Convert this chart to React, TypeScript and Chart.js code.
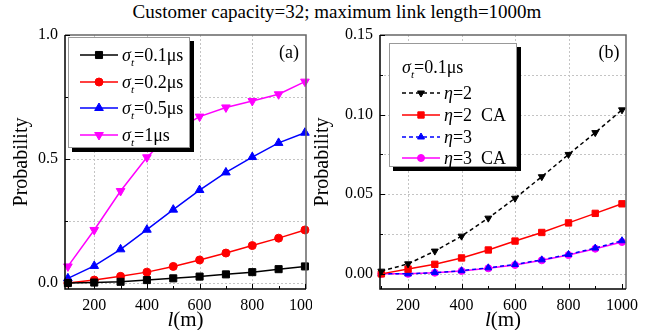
import React, { useEffect, useRef } from 'react';
import { Chart, registerables } from 'chart.js';

Chart.register(...registerables);

const FONT = "'Liberation Serif', 'Times New Roman', Times, Tinos, serif";

// ---------- data ----------
const xValues = [100, 200, 300, 400, 500, 600, 700, 800, 900, 1000];

// panel (a)
const sigma01 = [0.0, 0.002, 0.005, 0.012, 0.019, 0.026, 0.035, 0.044, 0.056, 0.067];
const sigma02 = [0.0, 0.012, 0.027, 0.044, 0.067, 0.093, 0.121, 0.151, 0.181, 0.214];
const sigma05 = [0.019, 0.069, 0.136, 0.215, 0.296, 0.375, 0.446, 0.508, 0.565, 0.606];
const sigma1 = [0.067, 0.214, 0.371, 0.507, 0.61, 0.671, 0.708, 0.734, 0.761, 0.812];

// panel (b)
const eta2 = [0.0017, 0.0063, 0.0143, 0.0237, 0.035, 0.0475, 0.061, 0.075, 0.0887, 0.103];
const eta2CA = [0.0, 0.003, 0.006, 0.01, 0.015, 0.0206, 0.026, 0.032, 0.038, 0.044];
const eta3 = [0.0, 0.0, 0.0008, 0.002, 0.0038, 0.0059, 0.0088, 0.0122, 0.0162, 0.0208];
const eta3CA = [0.0, 0.0, 0.0007, 0.0018, 0.0035, 0.0056, 0.0085, 0.0118, 0.0158, 0.02];

// tick values / labels
const xTickValues = [100, 200, 300, 400, 500, 600, 700, 800, 900, 1000];
const xLabelValues = [200, 400, 600, 800, 1000];
const yTicksA = [0, 0.25, 0.5, 0.75, 1.0];
const yLabelsA = ['0.0', '', '0.5', '', '1.0'];
const yTicksB = [0, 0.025, 0.05, 0.075, 0.1, 0.125, 0.15];
const yLabelsB = ['0.00', '', '0.05', '', '0.10', '', '0.15'];

const titleText = 'Customer capacity=32; maximum link length=1000m';

type Part = { t: string; italic?: boolean; sub?: boolean };
const sigmaLabel = (v: string): Part[] => [
  { t: 'σ', italic: true },
  { t: 't', italic: true, sub: true },
  { t: '=' + v + 'μs' },
];
const etaLabel = (v: string): Part[] => [{ t: 'η', italic: true }, { t: '=' + v }];

const legendLabelsA: Part[][] = [sigmaLabel('0.1'), sigmaLabel('0.2'), sigmaLabel('0.5'), sigmaLabel('1')];
const legendHeaderB: Part[] = sigmaLabel('0.1');
const legendLabelsB: Part[][] = [etaLabel('2'), etaLabel('2  CA'), etaLabel('3'), etaLabel('3  CA')];
const xTitleParts: Part[] = [{ t: 'l', italic: true }, { t: '(m)' }];

// ---------- drawing helpers ----------
function richWidth(ctx: CanvasRenderingContext2D, parts: Part[], size: number) {
  let w = 0;
  for (const p of parts) {
    const fs = p.sub ? size * 0.62 : size;
    ctx.font = `${p.italic ? 'italic ' : ''}${fs}px ${FONT}`;
    w += ctx.measureText(p.t).width;
  }
  return w;
}

function drawRich(ctx: CanvasRenderingContext2D, x: number, y: number, parts: Part[], size: number) {
  let cx = x;
  ctx.textAlign = 'left';
  ctx.textBaseline = 'alphabetic';
  ctx.fillStyle = '#000';
  for (const p of parts) {
    const fs = p.sub ? size * 0.62 : size;
    ctx.font = `${p.italic ? 'italic ' : ''}${fs}px ${FONT}`;
    ctx.fillText(p.t, cx, y + (p.sub ? size * 0.25 : 0));
    cx += ctx.measureText(p.t).width;
  }
}

function drawMarker(ctx: CanvasRenderingContext2D, style: string, x: number, y: number, r: number, color: string, rot: number) {
  ctx.save();
  ctx.fillStyle = color;
  ctx.strokeStyle = color;
  ctx.lineWidth = 1;
  ctx.setLineDash([]);
  ctx.beginPath();
  if (style === 'rect') {
    const s = r * Math.SQRT1_2;
    ctx.rect(x - s, y - s, 2 * s, 2 * s);
  } else if (style === 'circle') {
    ctx.arc(x, y, r, 0, Math.PI * 2);
  } else {
    let a = (rot * Math.PI) / 180;
    for (let i = 0; i < 3; i++) {
      const px = x + Math.sin(a) * r;
      const py = y - Math.cos(a) * r;
      if (i === 0) ctx.moveTo(px, py);
      else ctx.lineTo(px, py);
      a += (2 * Math.PI) / 3;
    }
    ctx.closePath();
  }
  ctx.fill();
  ctx.stroke();
  ctx.restore();
}

const decorPlugin = {
  id: 'decor',
  beforeDatasetsDraw(chart: any, _args: any, opts: any) {
    const { ctx, chartArea: ca } = chart;
    const xs = chart.scales.x;
    const ys = chart.scales.y;
    ctx.save();
    ctx.strokeStyle = '#c4c4c4';
    ctx.lineWidth = 1;
    ctx.setLineDash([2, 2]);
    for (const v of opts.xGrid) {
      const px = Math.round(xs.getPixelForValue(v)) + 0.5;
      ctx.beginPath();
      ctx.moveTo(px, ca.top);
      ctx.lineTo(px, ca.bottom);
      ctx.stroke();
    }
    for (const v of opts.yGrid) {
      const py = Math.round(ys.getPixelForValue(v)) + 0.5;
      ctx.beginPath();
      ctx.moveTo(ca.left, py);
      ctx.lineTo(ca.right, py);
      ctx.stroke();
    }
    ctx.restore();
  },
  afterDraw(chart: any, _args: any, opts: any) {
    const { ctx, chartArea: ca } = chart;
    const xs = chart.scales.x;
    const ys = chart.scales.y;
    ctx.save();
    ctx.setLineDash([]);
    // frame
    ctx.lineWidth = 1.5;
    ctx.strokeStyle = '#666';
    ctx.beginPath();
    ctx.moveTo(ca.left, ca.top);
    ctx.lineTo(ca.right, ca.top);
    ctx.lineTo(ca.right, ca.bottom);
    ctx.stroke();
    ctx.strokeStyle = '#000';
    ctx.beginPath();
    ctx.moveTo(ca.left, ca.top);
    ctx.lineTo(ca.left, ca.bottom);
    ctx.lineTo(ca.right, ca.bottom);
    ctx.stroke();
    // inward ticks
    ctx.lineWidth = 1;
    xTickValues.forEach((v) => {
      const px = Math.round(xs.getPixelForValue(v)) + 0.5;
      const len = xLabelValues.includes(v) ? 5 : 3;
      ctx.beginPath();
      ctx.moveTo(px, ca.bottom);
      ctx.lineTo(px, ca.bottom - len);
      ctx.stroke();
    });
    opts.yTicks.forEach((v: number, i: number) => {
      const py = Math.round(ys.getPixelForValue(v)) + 0.5;
      const len = opts.yLabels[i] ? 5 : 3;
      ctx.beginPath();
      ctx.moveTo(ca.left, py);
      ctx.lineTo(ca.left + len, py);
      ctx.stroke();
    });
    // panel label
    ctx.fillStyle = '#000';
    ctx.font = `18px ${FONT}`;
    ctx.textAlign = 'center';
    ctx.textBaseline = 'middle';
    ctx.fillText(opts.panel, ca.right - 17, ca.top + 18);
    // x title
    const tw = richWidth(ctx, xTitleParts, 21);
    drawRich(ctx, (ca.left + ca.right) / 2 - tw / 2, 326, xTitleParts, 21);
    // legend
    const lg = opts.legend;
    const bx = ca.left + lg.dx;
    const by = ca.top + lg.dy;
    ctx.fillStyle = '#000';
    ctx.fillRect(bx + 4, by + 4, lg.w, lg.h);
    ctx.fillStyle = '#fff';
    ctx.fillRect(bx, by, lg.w, lg.h);
    ctx.strokeStyle = '#999';
    ctx.lineWidth = 1;
    ctx.strokeRect(bx + 0.5, by + 0.5, lg.w - 1, lg.h - 1);
    if (lg.header) {
      drawRich(ctx, bx + lg.lineX0, by + lg.headerY + 6, lg.header, 18);
    }
    const dss = chart.data.datasets;
    lg.labels.forEach((parts: Part[], i: number) => {
      const ds = dss[i];
      const ry = by + lg.rowY[i];
      ctx.save();
      ctx.strokeStyle = ds.borderColor;
      ctx.lineWidth = ds.borderWidth;
      ctx.setLineDash(ds.borderDash || []);
      ctx.beginPath();
      ctx.moveTo(bx + lg.lineX0, ry);
      ctx.lineTo(bx + lg.lineX1, ry);
      ctx.stroke();
      ctx.restore();
      drawMarker(ctx, ds.pointStyle, bx + (lg.lineX0 + lg.lineX1) / 2, ry, ds.pointRadius, ds.borderColor, ds.pointRotation || 0);
      drawRich(ctx, bx + lg.textX, ry + 6, parts, 18);
    });
    ctx.restore();
  },
};

function series(values: number[]) {
  return xValues.map((x, i) => ({ x, y: values[i] }));
}

function makeDataset(values: number[], color: string, style: string, radius: number, rot = 0, dash: number[] = []) {
  return {
    data: series(values),
    borderColor: color,
    backgroundColor: color,
    borderWidth: 1.5,
    borderDash: dash,
    pointStyle: style,
    pointRadius: radius,
    pointRotation: rot,
    pointBorderWidth: 1,
    pointBackgroundColor: color,
    pointBorderColor: color,
    tension: 0,
    clip: 8,
  };
}

function makeOptions(p: {
  xMin: number; xMax: number; yMin: number; yMax: number;
  yTicks: number[]; yLabels: string[]; yWidth: number; rightPad: number; titlePad: number;
  panel: string; legend: any;
}) {
  return {
    responsive: false,
    devicePixelRatio: 1,
    animation: false as const,
    layout: { padding: { left: 0, right: p.rightPad, top: 35, bottom: 0 } },
    plugins: {
      legend: { display: false },
      tooltip: { enabled: false },
      title: { display: false },
      decor: {
        xGrid: [200, 400, 600, 800],
        yGrid: p.yTicks.filter((v) => v > p.yMin && v < p.yMax),
        yTicks: p.yTicks,
        yLabels: p.yLabels,
        panel: p.panel,
        legend: p.legend,
      },
    },
    scales: {
      x: {
        type: 'linear' as const,
        min: p.xMin,
        max: p.xMax,
        afterBuildTicks: (s: any) => {
          s.ticks = xTickValues.map((v) => ({ value: v }));
        },
        afterFit: (s: any) => {
          s.height = 41;
          s.paddingLeft = 0;
          s.paddingRight = 0;
        },
        grid: { display: false, drawTicks: false },
        border: { display: false },
        ticks: {
          autoSkip: false,
          maxRotation: 0,
          padding: 7,
          color: '#000',
          font: { family: FONT, size: 16 },
          callback: (v: any) => (xLabelValues.includes(Number(v)) ? String(v) : ''),
        },
      },
      y: {
        type: 'linear' as const,
        min: p.yMin,
        max: p.yMax,
        afterBuildTicks: (s: any) => {
          s.ticks = p.yTicks.map((v) => ({ value: v }));
        },
        afterFit: (s: any) => {
          s.width = p.yWidth;
          s.paddingTop = 0;
          s.paddingBottom = 0;
        },
        grid: { display: false, drawTicks: false },
        border: { display: false },
        title: {
          display: true,
          text: 'Probability',
          color: '#000',
          font: { family: FONT, size: 20 },
          padding: { top: p.titlePad, bottom: 0 },
        },
        ticks: {
          autoSkip: false,
          padding: 7,
          color: '#000',
          font: { family: FONT, size: 16 },
          callback: (_v: any, i: number) => p.yLabels[i] ?? '',
        },
      },
    },
  };
}

export default function App() {
  const refA = useRef<HTMLCanvasElement>(null);
  const refB = useRef<HTMLCanvasElement>(null);

  useEffect(() => {
    const chartA = new Chart(refA.current as HTMLCanvasElement, {
      type: 'line',
      data: {
        datasets: [
          makeDataset(sigma01, '#000000', 'rect', 5),
          makeDataset(sigma02, '#ff0000', 'circle', 4),
          makeDataset(sigma05, '#0000ff', 'triangle', 5),
          makeDataset(sigma1, '#ff00ff', 'triangle', 5, 180),
        ] as any,
      },
      options: makeOptions({
        xMin: 89, xMax: 1004, yMin: -0.024, yMax: 1.0,
        yTicks: yTicksA, yLabels: yLabelsA, yWidth: 65, rightPad: 3, titlePad: 10,
        panel: '(a)',
        legend: {
          dx: 3, dy: 2, w: 122, h: 111,
          header: null,
          lineX0: 12, lineX1: 50, textX: 54,
          rowY: [18, 45, 71, 98],
          labels: legendLabelsA,
        },
      }) as any,
      plugins: [decorPlugin as any],
    });

    const chartB = new Chart(refB.current as HTMLCanvasElement, {
      type: 'line',
      data: {
        datasets: [
          makeDataset(eta2, '#000000', 'triangle', 4, 180, [4, 3]),
          makeDataset(eta2CA, '#ff0000', 'rect', 4.5),
          makeDataset(eta3, '#0000ff', 'triangle', 4, 0, [4, 3]),
          makeDataset(eta3CA, '#ff00ff', 'circle', 3.5),
        ] as any,
      },
      options: makeOptions({
        xMin: 95, xMax: 1015, yMin: -0.0095, yMax: 0.15,
        yTicks: yTicksB, yLabels: yLabelsB, yWidth: 72, rightPad: 29, titlePad: 3,
        panel: '(b)',
        legend: {
          dx: 9, dy: 8, w: 128, h: 124,
          header: legendHeaderB,
          headerY: 24,
          lineX0: 13, lineX1: 51, textX: 55,
          rowY: [50, 72, 94, 115],
          labels: legendLabelsB,
        },
      }) as any,
      plugins: [decorPlugin as any],
    });

    return () => {
      chartA.destroy();
      chartB.destroy();
    };
  }, []);

  return (
    <div style={{ position: 'fixed', left: 0, top: 0, width: 655, height: 330, background: '#fff', overflow: 'hidden' }}>
      <div
        style={{
          position: 'absolute',
          top: 0,
          left: 337,
          transform: 'translateX(-50%)',
          whiteSpace: 'nowrap',
          fontFamily: FONT,
          fontSize: 19,
          lineHeight: '24px',
          color: '#000',
        }}
      >
        {titleText}
      </div>
      <canvas ref={refA} width={312} height={330} style={{ position: 'absolute', left: 0, top: 0 }} />
      <canvas ref={refB} width={347} height={330} style={{ position: 'absolute', left: 308, top: 0 }} />
    </div>
  );
}
